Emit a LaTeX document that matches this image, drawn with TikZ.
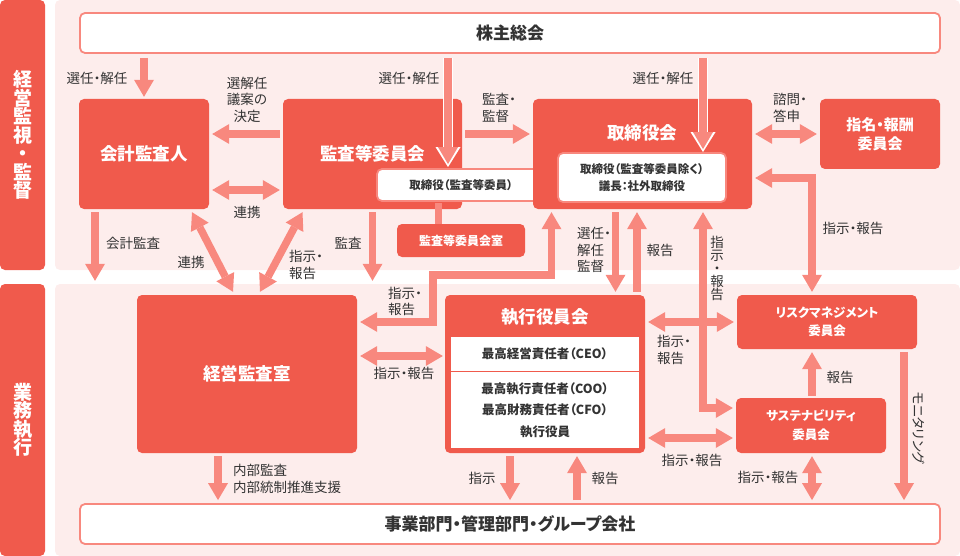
\documentclass[tikz,border=0pt]{standalone}
\usepackage{fontspec}
\setmainfont{Noto Sans CJK JP}[RawFeature=+palt]
\usetikzlibrary{arrows.meta,calc}
\definecolor{boxred}{RGB}{240,90,76}
\definecolor{arrowpink}{RGB}{248,136,126}
\definecolor{panelpink}{RGB}{253,237,236}
\definecolor{txtgray}{RGB}{51,51,51}
\newcommand{\fs}[2]{\fontsize{#1}{#2}\selectfont}
\tikzset{
  sz/.style 2 args={minimum width=#1pt,minimum height=#2pt},
  band/.style={fill=boxred,rounded corners=5pt,text=white,inner sep=0pt,align=center,font=\bfseries\fs{19}{18.5}},
  redbox/.style={fill=boxred,rounded corners=5pt,text=white,inner sep=0pt,align=center,font=\bfseries\fs{17.5}{21}},
  ttl/.style={text=white,inner sep=0pt,font=\bfseries\fs{17.5}{21}},
  whitebox/.style={fill=white,draw=arrowpink,line width=1.8pt,rounded corners=5pt,text=txtgray,inner sep=0pt,align=center},
  inbox/.style={fill=white,text=txtgray,inner sep=0pt,align=center,font=\bfseries\fs{12.5}{21.5}},
  lbl/.style={text=txtgray,inner sep=0pt,align=center,font=\fs{13.5}{16.5}},
  arr/.style={arrowpink,line width=7.5pt,-{Triangle[width=20pt,length=17pt,line width=0pt]}},
  darr/.style={arrowpink,line width=7.5pt,{Triangle[width=20pt,length=17pt,line width=0pt]}-{Triangle[width=20pt,length=17pt,line width=0pt]}},
  arrW/.style={white,line width=10.5pt,-{Triangle[width=25pt,length=20pt,line width=0pt]}}
}

\begin{document}
\begin{tikzpicture}[x=1pt,y=-1pt]
  \useasboundingbox (0,0) rectangle (960,556);
  % panels
  \fill[panelpink,rounded corners=5pt] (55,0) rectangle (960,270);
  \fill[panelpink,rounded corners=5pt] (55,284) rectangle (960,556);
  \node[band,sz={45}{270}] (bandA) at (22.5,135) {経\\営\\監\\視\\・\\監\\督};
  \node[band,sz={45}{272}] (bandB) at (22.5,420) {業\\務\\執\\行};

  % upper boxes
  \node[whitebox,sz={860}{40},font=\bfseries\fs{17}{20}] (kabu) at (510,33) {株主総会};
  \node[redbox,sz={130}{110}] (kaikei) at (144,154) {会計監査人};
  \node[redbox,sz={179}{110}] (kansa) at (372.5,154) {監査等委員会};
  \node[whitebox,sz={168}{32},font=\bfseries\fs{11.5}{14}] (kansaT) at (461,185) {取締役（監査等委員）};
  \node[redbox,sz={128}{33},font=\bfseries\fs{12}{14}] (kansaR) at (461,240.5) {監査等委員会室};
  \draw[arrowpink,line width=7pt] ($(kansaT.south)+(-23,1)$) -- ($(kansaR.north)+(-23,0)$);
  \node[redbox,sz={219}{110}] (tori) at (642.5,154) {};
  \node[ttl] (toriT) at (642,133) {取締役会};
  \node[whitebox,sz={168}{49},font=\bfseries\fs{11.5}{17}] (toriW) at (642,177.5) {取締役（監査等委員除く）\\議長：社外取締役};
  \node[redbox,sz={120}{70},font=\bfseries\fs{15}{19}] (shimei) at (880,134) {指名・報酬\\委員会};

  % lower boxes
  \node[redbox,sz={220}{158}] (keiei) at (247,374) {経営監査室};
  \node[redbox,sz={200}{158}] (shikko) at (545,374) {};
  \node[ttl] (shikkoT) at (545,317) {執行役員会};
  \node[inbox,sz={188}{34}] (shikkoA) at (545,354) {最高経営責任者（CEO）};
  \node[inbox,sz={188}{76}] (shikkoB) at (545,410) {最高執行責任者（COO）\\最高財務責任者（CFO）\\執行役員};
  \node[redbox,sz={180}{54},font=\bfseries\fs{12.5}{18}] (risk) at (827,322) {リスクマネジメント\\委員会};
  \node[redbox,sz={150}{55},font=\bfseries\fs{12.5}{19}] (sus) at (811,425.5) {サステナビリティ\\委員会};
  \node[whitebox,sz={860}{40},font=\bfseries\fs{17}{20}] (jigyo) at (510,524) {事業部門・管理部門・グループ会社};

  \coordinate (cA) at (95,0);
  \coordinate (cB) at (448,0);
  \coordinate (cC) at (703,0);
  \coordinate (kA) at (433,275);

  % arrows, upper
  \draw[arr] ($(kabu.south -| kaikei)+(0,4)$) -- ($(kaikei.north)+(0,-2)$);
  \draw[arrW] ($(kabu.south -| cB)+(0,4)$) -- ($(kansaT.north -| cB)+(0,-1)$);
  \draw[arr] ($(kabu.south -| cB)+(0,4)$) -- ($(kansaT.north -| cB)+(0,-4)$);
  \draw[arrW] ($(kabu.south -| cC)+(0,4)$) -- ($(toriW.north -| cC)+(0,0)$);
  \draw[arr] ($(kabu.south -| cC)+(0,4)$) -- ($(toriW.north -| cC)+(0,-3)$);
  \draw[arr] ($(kansa.west)+(-3,-20)$) -- ($(kaikei.east)+(3,-20)$);
  \draw[darr] ($(kaikei.east)+(3,36)$) -- ($(kansa.west)+(-3,36)$);
  \draw[arr] ($(kansa.east)+(3,-20)$) -- ($(tori.west)+(-3,-20)$);
  \draw[darr] ($(tori.east)+(3,-20)$) -- ($(shimei.west)+(-3,0)$);
  \draw[arr] ($(kaikei.south -| cA)+(0,3)$) -- ($(keiei.north -| cA)+(0,-14)$);
  \draw[arr] ($(kansa.south)+(0,3)$) -- ($(keiei.north -| kansa)+(0,-14)$);
  \draw[darr] ($(kaikei.south)+(48,3)$) -- ($(keiei.north)+(-14,-3)$);
  \draw[darr] ($(kansa.south)+(-70,3)$) -- ($(keiei.north)+(13,-3)$);
  \draw[darr] ($(keiei.east)+(3,-52)$) -| (kA) -| ($(tori.south)+(-91,3)$);
  \draw[arr] ($(tori.south)+(-27,3)$) -- ($(shikko.north)+(70.5,-3)$);
  \draw[arr] ($(shikko.north)+(92,-3)$) -- ($(tori.south)+(-5.5,3)$);
  \draw[darr] ($(tori.south -| cC)+(0,3)$) |- ($(sus.west)+(-3,-17.5)$);
  \draw[darr] ($(tori.east)+(3,24)$) -| ($(risk.north)+(-15,-3)$);

  % arrows, lower
  \draw[darr] ($(keiei.east)+(3,-18)$) -- ($(shikko.west)+(-2,-18)$);
  \draw[darr] ($(shikko.east)+(3,-52)$) -- ($(risk.west)+(-3,0)$);
  \draw[darr] ($(shikko.east)+(3,64)$) -- ($(sus.west)+(-3,12.5)$);
  \draw[arr] ($(sus.north)+(1,-2)$) -- ($(risk.south)+(-15,3)$);
  \draw[arr] ($(risk.south)+(77,3)$) -- ($(jigyo.north)+(394,-3)$);
  \draw[arr] ($(shikko.south)+(-35,3)$) -- ($(jigyo.north)+(0,-3)$);
  \draw[arr] ($(jigyo.north)+(67,-3)$) -- ($(shikko.south)+(32,3)$);
  \draw[darr] ($(sus.south)+(1,3)$) -- ($(jigyo.north)+(302,-3)$);
  \draw[arr] ($(keiei.south)+(-29,3)$) -- ($(jigyo.north)+(-292,-3)$);

  % labels
  \node[lbl] (l1) at (97,78) {選任・解任};
  \node[lbl] (l2) at (409,78) {選任・解任};
  \node[lbl] (l3) at (663,78) {選任・解任};
  \node[lbl] (l4) at (247,99.5) {選解任\\議案の\\決定};
  \node[lbl] (l5) at (247,212) {連携};
  \node[lbl] (l6) at (133,243) {会計監査};
  \node[lbl] (l7) at (348,243) {監査};
  \node[lbl] (l8) at (191,262) {連携};
  \node[lbl,align=left,anchor=west] (l9) at (289,265) {指示・\\報告};
  \node[lbl,align=left,anchor=west] (l10) at (482,108) {監査・\\監督};
  \node[lbl,align=left,anchor=west] (l11) at (773,108) {諮問・\\答申};
  \node[lbl] (l12) at (853,228) {指示・報告};
  \node[lbl,align=left,anchor=west] (l13) at (577,250) {選任・\\解任\\監督};
  \node[lbl] (l14) at (660,250) {報告};
  \node[lbl,font=\fs{13.5}{13}] (l15) at (717,268) {指\\示\\・\\報\\告};
  \node[lbl,align=left,anchor=west] (l16) at (388,301.5) {指示・\\報告};
  \node[lbl] (l17) at (404,373) {指示・報告};
  \node[lbl,align=left,anchor=west] (l18) at (657,350) {指示・\\報告};
  \node[lbl] (l19) at (692,460) {指示・報告};
  \node[lbl] (l20) at (840,377) {報告};
  \node[lbl,rotate=-90] (l21) at (919,428) {モニタリング};
  \node[lbl] (l22) at (768,477) {指示・報告};
  \node[lbl] (l23) at (605,478) {報告};
  \node[lbl] (l24) at (482,478) {指示};
  \node[lbl,align=left,anchor=west] (l25) at (233,479) {内部監査\\内部統制推進支援};
\end{tikzpicture}
\end{document}
